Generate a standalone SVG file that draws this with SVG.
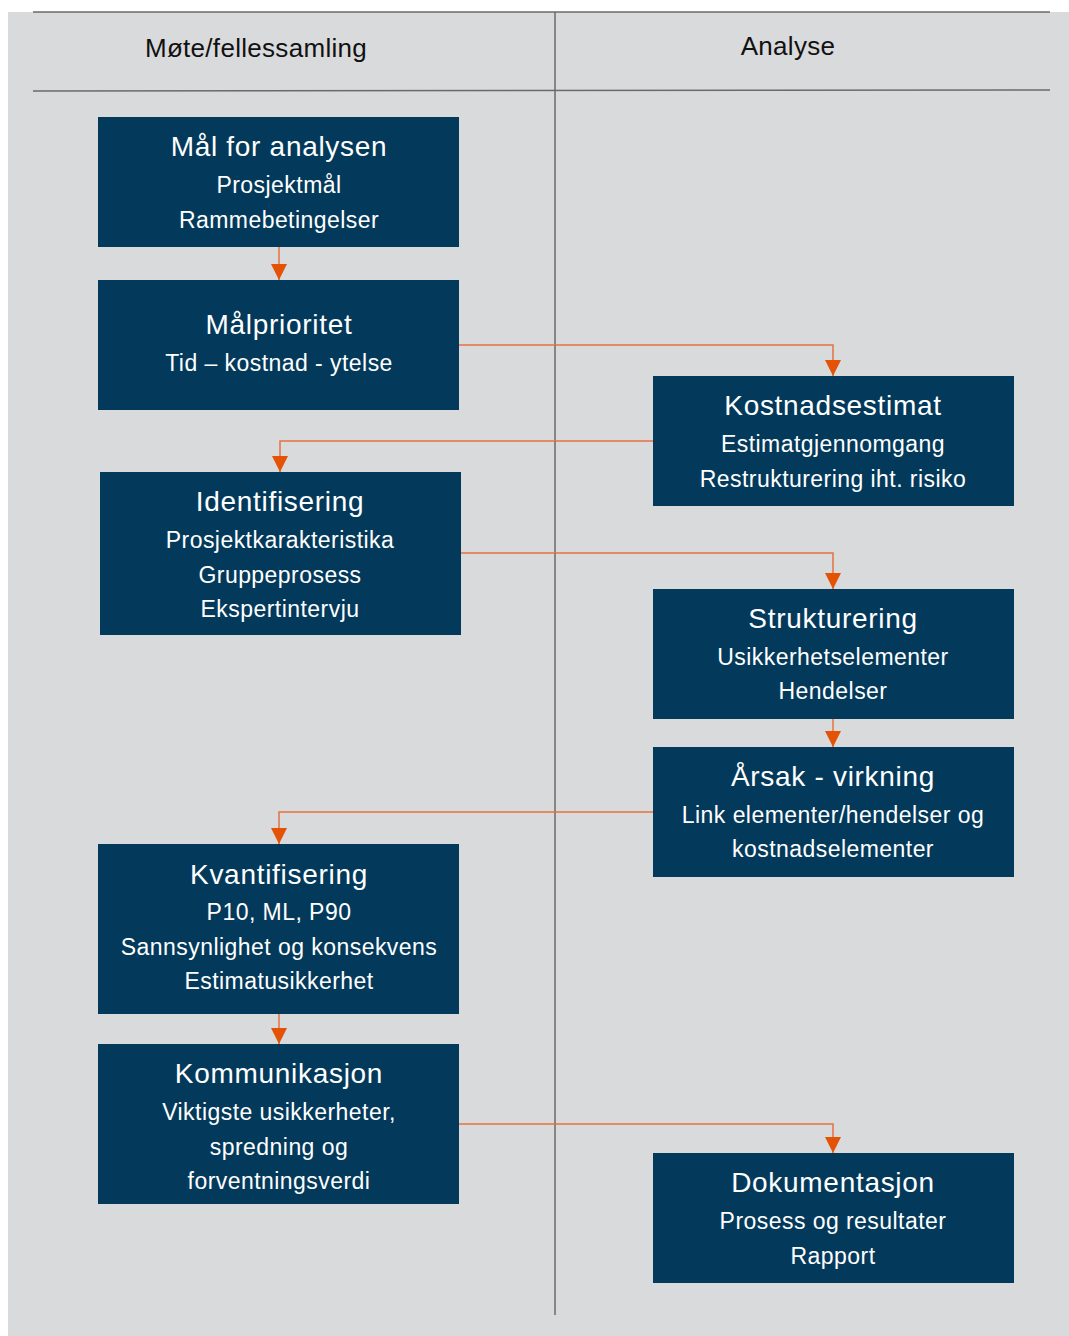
<svg xmlns="http://www.w3.org/2000/svg" width="1069" height="1336" viewBox="0 0 1069 1336">
<style>
.box{fill:#033a5b}
.t{font-family:"Liberation Sans",Arial,sans-serif;fill:#ffffff;text-anchor:middle}
.h{font-size:28px;letter-spacing:0.7px}
.s{font-size:23px;letter-spacing:0.45px}
.hd{font-family:"Liberation Sans",Arial,sans-serif;fill:#111111;font-size:26px;letter-spacing:0.3px;text-anchor:middle}
.grid{stroke:#6a6a6a;stroke-width:1.5;fill:none}
.c{stroke:#e4733f;stroke-width:1.5;fill:none}
</style>
<defs>
<marker id="ah" markerUnits="userSpaceOnUse" markerWidth="16" markerHeight="16" viewBox="0 0 16 16" refX="16" refY="8" orient="auto">
<path d="M0,0 L16,8 L0,16 Z" fill="#e35205"/>
</marker>
</defs>
<rect x="0" y="0" width="1069" height="1336" fill="#ffffff"/>
<rect x="8" y="12" width="1061" height="1324" fill="#d9dadc"/>
<g id="grid">
<line class="grid" x1="33" y1="12" x2="1050" y2="12"/>
<line class="grid" x1="33" y1="91" x2="1050" y2="90"/>
<line class="grid" x1="555" y1="12" x2="555" y2="1315"/>
<text class="hd" x="256" y="57">Møte/fellessamling</text>
<text class="hd" x="788" y="55">Analyse</text>
</g>
<g id="connectors">
<path class="c" d="M279,247 V280" marker-end="url(#ah)"/>
<path class="c" d="M459,345 H833 V376" marker-end="url(#ah)"/>
<path class="c" d="M653,441 H280 V472" marker-end="url(#ah)"/>
<path class="c" d="M461,553 H833 V589" marker-end="url(#ah)"/>
<path class="c" d="M833,719 V747" marker-end="url(#ah)"/>
<path class="c" d="M653,812 H279 V844" marker-end="url(#ah)"/>
<path class="c" d="M279,1014 V1044" marker-end="url(#ah)"/>
<path class="c" d="M459,1124 H833 V1153" marker-end="url(#ah)"/>
</g>
<g id="maal">
<rect class="box" x="98" y="117" width="361" height="130"/>
<text class="t h" x="279" y="156">Mål for analysen</text>
<text class="t s" x="279" y="193">Prosjektmål</text>
<text class="t s" x="279" y="228">Rammebetingelser</text>
</g>
<g id="maalprioritet">
<rect class="box" x="98" y="280" width="361" height="130"/>
<text class="t h" x="279" y="334">Målprioritet</text>
<text class="t s" x="279" y="371">Tid – kostnad - ytelse</text>
</g>
<g id="kostnadsestimat">
<rect class="box" x="653" y="376" width="361" height="130"/>
<text class="t h" x="833" y="415">Kostnadsestimat</text>
<text class="t s" x="833" y="452">Estimatgjennomgang</text>
<text class="t s" x="833" y="487">Restrukturering iht. risiko</text>
</g>
<g id="identifisering">
<rect class="box" x="100" y="472" width="361" height="163"/>
<text class="t h" x="280" y="511">Identifisering</text>
<text class="t s" x="280" y="548">Prosjektkarakteristika</text>
<text class="t s" x="280" y="583">Gruppeprosess</text>
<text class="t s" x="280" y="617">Ekspertintervju</text>
</g>
<g id="strukturering">
<rect class="box" x="653" y="589" width="361" height="130"/>
<text class="t h" x="833" y="628">Strukturering</text>
<text class="t s" x="833" y="665">Usikkerhetselementer</text>
<text class="t s" x="833" y="699">Hendelser</text>
</g>
<g id="aarsak">
<rect class="box" x="653" y="747" width="361" height="130"/>
<text class="t h" x="833" y="786">Årsak - virkning</text>
<text class="t s" x="833" y="823">Link elementer/hendelser og</text>
<text class="t s" x="833" y="857">kostnadselementer</text>
</g>
<g id="kvantifisering">
<rect class="box" x="98" y="844" width="361" height="170"/>
<text class="t h" x="279" y="884">Kvantifisering</text>
<text class="t s" x="279" y="920">P10, ML, P90</text>
<text class="t s" x="279" y="955">Sannsynlighet og konsekvens</text>
<text class="t s" x="279" y="989">Estimatusikkerhet</text>
</g>
<g id="kommunikasjon">
<rect class="box" x="98" y="1044" width="361" height="160"/>
<text class="t h" x="279" y="1083">Kommunikasjon</text>
<text class="t s" x="279" y="1120">Viktigste usikkerheter,</text>
<text class="t s" x="279" y="1155">spredning og</text>
<text class="t s" x="279" y="1189">forventningsverdi</text>
</g>
<g id="dokumentasjon">
<rect class="box" x="653" y="1153" width="361" height="130"/>
<text class="t h" x="833" y="1192">Dokumentasjon</text>
<text class="t s" x="833" y="1229">Prosess og resultater</text>
<text class="t s" x="833" y="1264">Rapport</text>
</g>
</svg>
